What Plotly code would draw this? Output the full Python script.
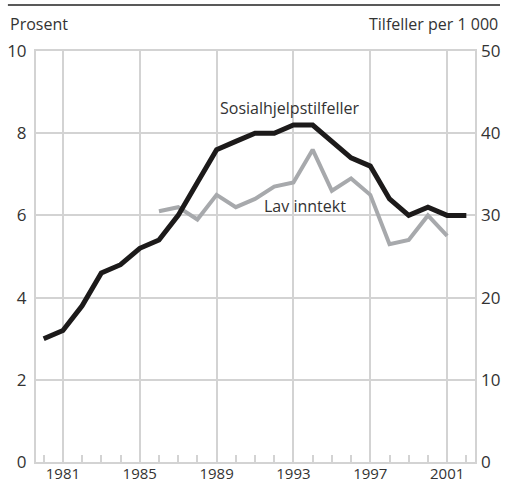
import plotly.graph_objects as go

years_sos = list(range(1980, 2003))
sos_per_1000 = [15, 16, 19, 23, 24, 26, 27, 30, 34, 38, 39, 40, 40, 41, 41, 39, 37, 36, 32, 30, 31, 30, 30]

years_lav = list(range(1986, 2002))
lav_prosent = [6.1, 6.2, 5.9, 6.5, 6.2, 6.4, 6.7, 6.8, 7.6, 6.6, 6.9, 6.5, 5.3, 5.4, 6.0, 5.5]

x_tickvals = [1981, 1985, 1989, 1993, 1997, 2001]
x_ticktext = ["1981", "1985", "1989", "1993", "1997", "2001"]
left_ticks = [0, 2, 4, 6, 8, 10]
right_ticks = [0, 10, 20, 30, 40, 50]

GRID = "#d3d3d3"
TXT = "#333333"
FONT = "Open Sans"

fig = go.Figure()
fig.add_trace(go.Scatter(x=years_lav, y=lav_prosent, mode="lines",
                         line=dict(color="#a7a9ac", width=4), yaxis="y", name="Lav inntekt"))
fig.add_trace(go.Scatter(x=years_sos, y=sos_per_1000, mode="lines",
                         line=dict(color="#1c1a1a", width=5), yaxis="y2", name="Sosialhjelpstilfeller"))

fig.update_layout(
    width=505, height=483,
    margin=dict(l=36, r=30, t=51, b=21),
    paper_bgcolor="white", plot_bgcolor="white",
    showlegend=False,
    font=dict(family=FONT, size=16, color=TXT),
    xaxis=dict(range=[1979.6, 2002.45], tickvals=x_tickvals, ticktext=x_ticktext,
               showgrid=True, gridcolor=GRID, gridwidth=2,
               showline=True, linecolor=GRID, linewidth=2, mirror=True,
               ticks="inside", ticklen=7, tickcolor=GRID, tickwidth=2,
               minor=dict(dtick=1, tick0=1980, ticks="inside", ticklen=7, tickcolor=GRID, tickwidth=2, showgrid=False),
               zeroline=False, automargin=False, ticklabelstandoff=-3,
               tickfont=dict(size=15, color=TXT)),
    yaxis=dict(range=[0, 10], tickvals=left_ticks, showgrid=True, gridcolor=GRID, gridwidth=2,
               showline=True, linecolor=GRID, linewidth=2, mirror=True,
               ticks="", zeroline=False, automargin=False, ticklabelstandoff=4,
               tickfont=dict(size=17, color=TXT)),
    yaxis2=dict(range=[0, 50], tickvals=right_ticks, overlaying="y", side="right",
                showgrid=False, showline=False, ticks="", zeroline=False, automargin=False,
                ticklabelstandoff=5, tickfont=dict(size=17, color=TXT)),
    annotations=[
        dict(text="Prosent", xref="paper", yref="paper", x=-0.064, y=1.065, xanchor="left", yanchor="middle",
             showarrow=False, font=dict(size=16, color=TXT)),
        dict(text="Tilfeller per 1 000", xref="paper", yref="paper", x=1.057, y=1.065, xanchor="right", yanchor="middle",
             showarrow=False, font=dict(size=16, color=TXT)),
        dict(text="Sosialhjelpstilfeller", xref="x", yref="y", x=1992.8, y=8.61, showarrow=False,
             font=dict(size=16, color=TXT)),
        dict(text="Lav inntekt", xref="x", yref="y", x=1993.6, y=6.23, showarrow=False,
             font=dict(size=16, color=TXT)),
    ],
    shapes=[dict(type="line", xref="paper", yref="paper", x0=-0.064, x1=1.057, y0=1.112, y1=1.112,
                 line=dict(color="#222222", width=1.5))],
)

fig.write_html("out.html", config={"displayModeBar": False},
               post_script="document.body.style.margin='0';")
